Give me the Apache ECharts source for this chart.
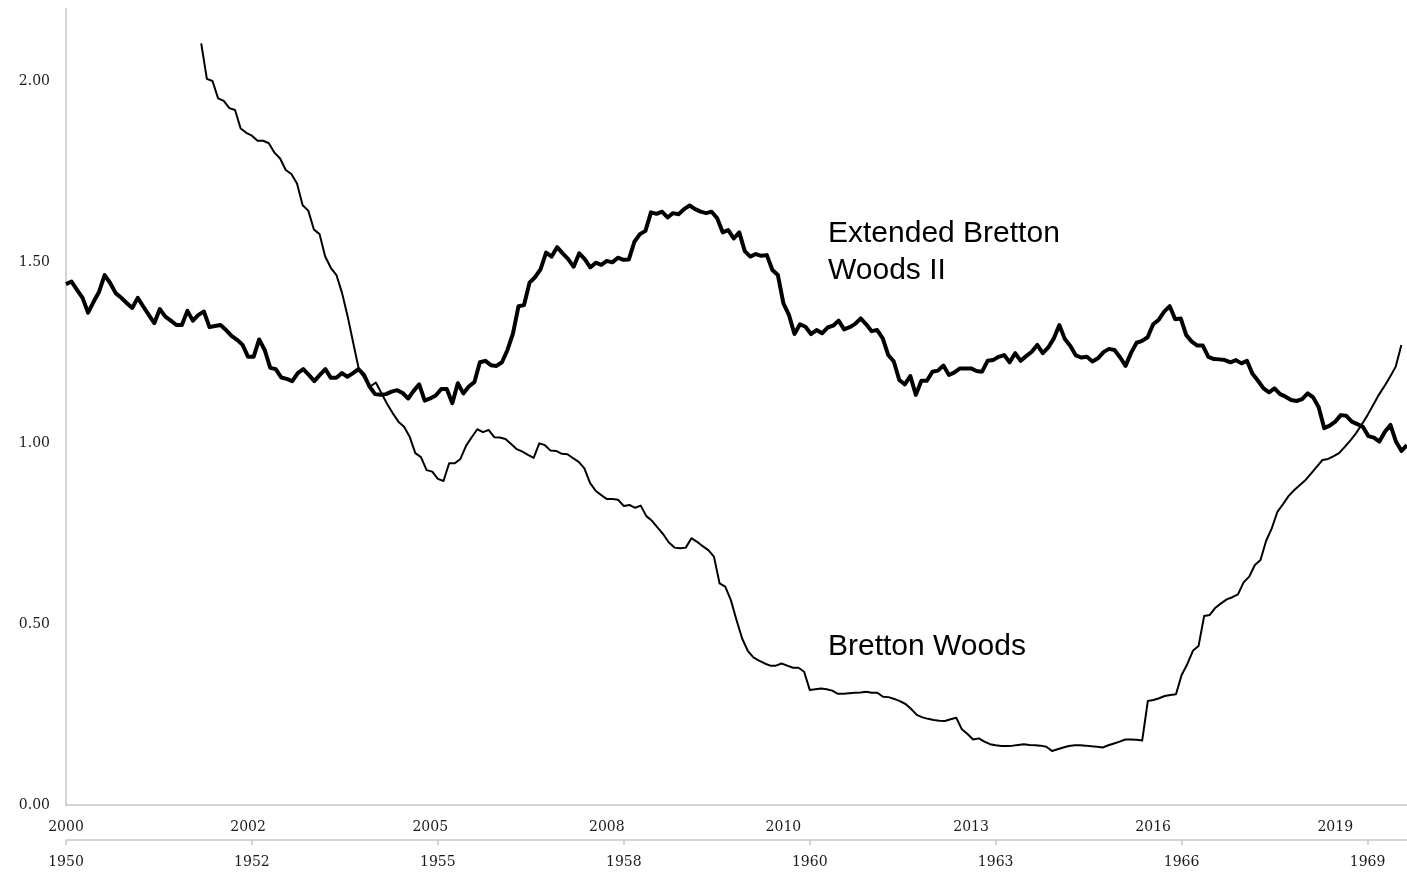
<!DOCTYPE html>
<html>
<head>
<meta charset="utf-8">
<script src="https://cdn.jsdelivr.net/npm/echarts@6/dist/echarts.min.js"></script>
<style>
html,body{margin:0;padding:0;background:#fff;}
#chart{width:1407px;height:873px;}
</style>
</head>
<body>
<div id="chart"></div>
<script>
// Extended Bretton Woods II (top axis, 2000 onward)
const extendedBW2 = [
1.439,1.446,1.423,1.401,1.360,1.390,1.418,1.464,1.442,1.414,
1.401,1.387,1.373,1.401,1.377,1.354,1.331,1.370,1.349,1.338,
1.326,1.326,1.365,1.338,1.354,1.363,1.320,1.323,1.326,1.312,
1.296,1.285,1.271,1.238,1.238,1.286,1.257,1.208,1.204,1.181,
1.177,1.171,1.193,1.204,1.188,1.171,1.188,1.204,1.180,1.180,
1.193,1.183,1.193,1.204,1.188,1.156,1.135,1.133,1.135,1.142,
1.146,1.138,1.123,1.144,1.162,1.117,1.123,1.131,1.149,1.149,
1.110,1.165,1.137,1.156,1.168,1.223,1.227,1.215,1.213,1.223,
1.257,1.303,1.378,1.381,1.443,1.458,1.480,1.526,1.515,1.541,
1.524,1.508,1.487,1.524,1.508,1.485,1.498,1.492,1.503,1.499,
1.512,1.506,1.507,1.556,1.577,1.586,1.637,1.633,1.639,1.623,
1.635,1.632,1.646,1.656,1.646,1.639,1.635,1.639,1.621,1.582,
1.588,1.565,1.582,1.530,1.515,1.522,1.517,1.519,1.478,1.464,
1.386,1.354,1.301,1.328,1.321,1.301,1.312,1.303,1.319,1.324,
1.338,1.314,1.320,1.329,1.344,1.328,1.309,1.312,1.289,1.243,
1.225,1.174,1.162,1.185,1.133,1.172,1.172,1.197,1.200,1.214,
1.188,1.195,1.206,1.206,1.206,1.199,1.197,1.227,1.229,1.238,
1.243,1.223,1.248,1.227,1.240,1.252,1.271,1.248,1.264,1.289,
1.326,1.287,1.268,1.242,1.236,1.238,1.225,1.234,1.251,1.260,
1.257,1.237,1.213,1.249,1.277,1.282,1.292,1.328,1.340,1.363,
1.378,1.342,1.344,1.298,1.280,1.269,1.269,1.238,1.232,1.231,
1.229,1.223,1.229,1.220,1.227,1.191,1.172,1.151,1.140,1.151,
1.135,1.128,1.119,1.116,1.121,1.137,1.126,1.099,1.041,1.048,
1.059,1.077,1.075,1.059,1.052,1.045,1.019,1.015,1.004,1.031,
1.050,1.004,0.978,0.994
];

// Bretton Woods (bottom axis, 1950 onward); nulls where no line is drawn
const brettonWoods = [
null,null,null,null,null,null,null,null,null,null,
null,null,null,null,null,null,null,null,null,null,
null,null,null,null,
2.104,2.006,2.000,1.952,1.945,1.925,1.920,1.869,1.857,1.849,
1.835,1.835,1.828,1.802,1.786,1.754,1.743,1.717,1.657,1.642,
1.590,1.577,1.515,1.484,1.464,1.414,1.349,1.275,1.202,1.179,
1.156,1.167,1.137,1.108,1.082,1.059,1.045,1.017,0.972,0.961,
0.925,0.921,0.901,0.895,0.944,0.944,0.956,0.992,1.016,1.038,
1.030,1.036,1.016,1.015,1.011,0.997,0.983,0.976,0.967,0.959,
0.999,0.994,0.979,0.978,0.970,0.969,0.958,0.948,0.930,0.890,
0.868,0.856,0.845,0.845,0.843,0.826,0.829,0.821,0.827,0.798,
0.785,0.766,0.748,0.725,0.711,0.709,0.711,0.737,0.727,0.715,
0.704,0.686,0.612,0.603,0.566,0.511,0.460,0.426,0.408,0.399,
0.391,0.385,0.385,0.391,0.385,0.379,0.379,0.368,0.318,0.320,
0.322,0.320,0.316,0.307,0.307,0.309,0.310,0.311,0.313,0.310,
0.310,0.299,0.298,0.293,0.287,0.279,0.265,0.249,0.242,0.238,
0.235,0.233,0.232,0.237,0.241,0.209,0.196,0.181,0.184,0.175,
0.168,0.165,0.163,0.163,0.164,0.166,0.168,0.166,0.165,0.164,
0.161,0.149,0.154,0.159,0.163,0.165,0.165,0.164,0.162,0.161,
0.159,0.165,0.170,0.175,0.181,0.181,0.180,0.178,0.287,0.290,
0.295,0.301,0.304,0.306,0.359,0.389,0.426,0.439,0.522,0.525,
0.545,0.557,0.568,0.574,0.582,0.615,0.631,0.663,0.677,0.730,
0.764,0.810,0.831,0.854,0.870,0.884,0.898,0.916,0.935,0.953,
0.956,0.964,0.973,0.990,1.008,1.028,1.052,1.077,1.105,1.133,
1.157,1.183,1.211,1.271,
null
];

// Axis tick labels and the category positions where they sit
const topTickLabels = ['2000','2002','2005','2008','2010','2013','2016','2019'];
const topTickIndex = [0,33,66,98,130,164,197,230];
const bottomTickLabels = ['1950','1952','1955','1958','1960','1963','1966','1969'];
const bottomTickIndex = [0,33,66,99,132,165,198,231];

const topCategories = extendedBW2.map((_, i) => 'e' + i);
const bottomCategories = brettonWoods.map((_, i) => 'b' + i);

const axisGray = '#c6c6c6';
const serif = '"DejaVu Serif", "Liberation Serif", serif';

const chart = echarts.init(document.getElementById('chart'), null, {renderer: 'canvas'});
chart.setOption({
  animation: false,
  backgroundColor: '#ffffff',
  grid: {left: 66, right: 0, top: 8.6, bottom: 68, containLabel: false},
  xAxis: [
    {
      type: 'category',
      data: topCategories,
      boundaryGap: false,
      position: 'bottom',
      axisLine: {show: true, lineStyle: {color: axisGray, width: 1.5}},
      axisTick: {show: false},
      splitLine: {show: false},
      axisLabel: {
        interval: (i) => topTickIndex.indexOf(i) >= 0,
        formatter: (v, i) => { const k = topTickIndex.indexOf(i); return k >= 0 ? topTickLabels[k] : ''; },
        margin: 15,
        color: '#1a1a1a',
        fontFamily: serif,
        fontSize: 14
      }
    },
    {
      type: 'category',
      data: bottomCategories,
      boundaryGap: false,
      position: 'bottom',
      offset: 35,
      axisLine: {show: true, lineStyle: {color: axisGray, width: 1.5}},
      axisTick: {
        show: true,
        length: 5,
        interval: (i) => bottomTickIndex.indexOf(i) >= 0,
        lineStyle: {color: axisGray, width: 1.5}
      },
      splitLine: {show: false},
      axisLabel: {
        interval: (i) => bottomTickIndex.indexOf(i) >= 0,
        formatter: (v, i) => { const k = bottomTickIndex.indexOf(i); return k >= 0 ? bottomTickLabels[k] : ''; },
        margin: 15,
        color: '#1a1a1a',
        fontFamily: serif,
        fontSize: 14
      }
    }
  ],
  yAxis: {
    type: 'value',
    min: 0,
    max: 2.2,
    interval: 0.5,
    axisLine: {show: true, lineStyle: {color: axisGray, width: 1.5}},
    axisTick: {show: false},
    splitLine: {show: false},
    axisLabel: {
      showMaxLabel: false,
      formatter: (v) => v.toFixed(2),
      margin: 16,
      color: '#1a1a1a',
      fontFamily: serif,
      fontSize: 14
    }
  },
  series: [
    {
      name: 'Extended Bretton Woods II',
      type: 'line',
      xAxisIndex: 0,
      data: extendedBW2,
      showSymbol: false,
      symbol: 'none',
      lineStyle: {color: '#000', width: 4, join: 'round'},
      z: 3
    },
    {
      name: 'Bretton Woods',
      type: 'line',
      xAxisIndex: 1,
      data: brettonWoods,
      showSymbol: false,
      symbol: 'none',
      connectNulls: false,
      lineStyle: {color: '#000', width: 2, join: 'round'},
      z: 2
    }
  ],
  graphic: [
    {
      type: 'text',
      x: 828, y: 215,
      style: {
        text: 'Extended Bretton\nWoods II',
        font: '30px "Liberation Sans", Arial, sans-serif',
        fill: '#000',
        lineHeight: 37,
        verticalAlign: 'top',
        align: 'left'
      }
    },
    {
      type: 'text',
      x: 828, y: 628,
      style: {
        text: 'Bretton Woods',
        font: '30px "Liberation Sans", Arial, sans-serif',
        fill: '#000',
        lineHeight: 37,
        verticalAlign: 'top',
        align: 'left'
      }
    }
  ]
});
</script>
</body>
</html>
